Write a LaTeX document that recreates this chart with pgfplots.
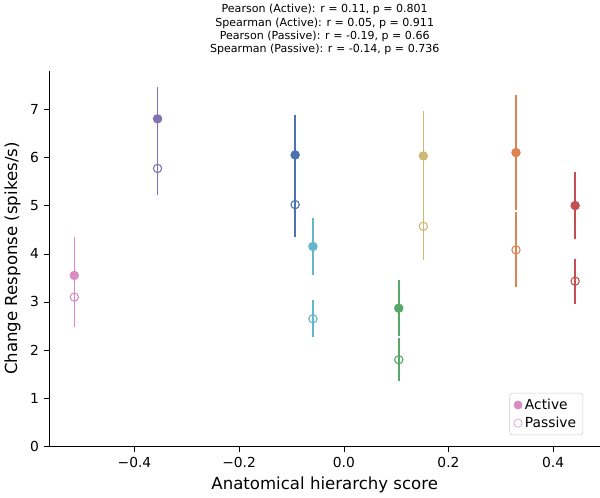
\documentclass[border=0pt]{standalone}
\usepackage{pgfplots}
\pgfplotsset{compat=1.18}
\usepackage{fontspec}
\setmainfont{DejaVu Sans}
\definecolor{cpink}{HTML}{DA8BC3}
\definecolor{cpurple}{HTML}{8172B3}
\definecolor{cblue}{HTML}{4C72B0}
\definecolor{ccyan}{HTML}{64B5CD}
\definecolor{cgreen}{HTML}{55A868}
\definecolor{ctan}{HTML}{CCB974}
\definecolor{corange}{HTML}{DD8452}
\definecolor{cred}{HTML}{C44E52}
\newcommand{\pt}[5]{%
\addplot[forget plot,only marks,color=#1,mark=*,mark size=3pt,mark options={fill=#1,draw=#1,line width=0.8pt},
 error bars/.cd,y dir=both,y explicit,error bar style={line width=1.1pt,color=#1,solid},error mark=none]
 coordinates {(#2,#3) +- (0,#4)};}
\newcommand{\pp}[5]{%
\addplot[forget plot,only marks,color=#1,mark=o,mark size=3pt,mark options={draw=#1,fill=white,line width=0.8pt},
 error bars/.cd,y dir=both,y explicit,error bar style={line width=1.1pt,color=#1,solid},error mark=none]
 coordinates {(#2,#3) +- (0,#4)};}
\begin{document}
\begin{tikzpicture}
\begin{axis}[
 scale only axis, width=398pt, height=272pt,
 xmin=-0.562, xmax=0.489, ymin=0, ymax=7.8,
 axis lines=left, axis line style={-},
 xtick={-0.4,-0.2,0,0.2,0.4}, xticklabels={−0.4,−0.2,0.0,0.2,0.4},
 ytick={0,1,...,7},
 /pgf/number format/assume math mode=true,
 ticklabel style={font=\fontsize{10}{12}\selectfont},
 xlabel={Anatomical hierarchy score}, ylabel={Change Response (spikes/s)},
 label style={font=\fontsize{12}{14}\selectfont},
 title={Pearson (Active): r = 0.11, p = 0.801\\Spearman (Active): r = 0.05, p = 0.911\\Pearson (Passive): r = -0.19, p = 0.66\\Spearman (Passive): r = -0.14, p = 0.736},
 title style={font=\fontsize{8}{9.5}\selectfont, align=center, yshift=2pt},
 legend pos=south east, legend cell align=left,
 legend style={font=\fontsize{10}{12}\selectfont, draw=black!20, rounded corners=2pt},
 tick style={black}, tick align=outside,
]
\pt{cpink}{-0.515}{3.55}{0.8}{}
\pp{cpink}{-0.515}{3.1}{0.63}{}
\pt{cpurple}{-0.356}{6.8}{0.65}{}
\pp{cpurple}{-0.356}{5.77}{0.55}{}
\pt{cblue}{-0.093}{6.05}{0.82}{}
\pp{cblue}{-0.093}{5.02}{0.67}{}
\pt{ccyan}{-0.059}{4.15}{0.6}{}
\pp{ccyan}{-0.059}{2.65}{0.38}{}
\pt{cgreen}{0.105}{2.87}{0.58}{}
\pp{cgreen}{0.105}{1.8}{0.45}{}
\pt{ctan}{0.152}{6.03}{0.94}{}
\pp{ctan}{0.152}{4.57}{0.7}{}
\pt{corange}{0.329}{6.1}{1.2}{}
\pp{corange}{0.329}{4.08}{0.78}{}
\pt{cred}{0.442}{5.0}{0.7}{}
\pp{cred}{0.442}{3.43}{0.47}{}
\addlegendimage{only marks,mark=*,mark size=3pt,color=cpink,fill=cpink}
\addlegendentry{Active}
\addlegendimage{only marks,mark=o,mark size=3pt,color=cpink}
\addlegendentry{Passive}
\end{axis}
\end{tikzpicture}
\end{document}
